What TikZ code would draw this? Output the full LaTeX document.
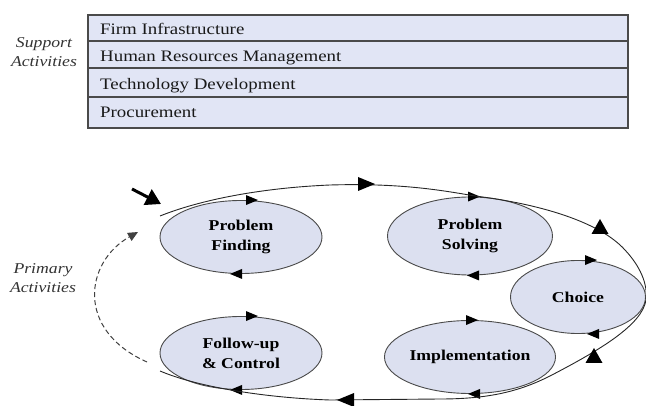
\documentclass[tikz,border=0pt]{standalone}
\usepackage{fontspec}
\setmainfont{Liberation Serif}
\usetikzlibrary{shapes.geometric,arrows.meta,calc}
\definecolor{boxfill}{HTML}{E1E5F5}
\definecolor{ellfill}{HTML}{DCE0F0}
\definecolor{edge}{HTML}{4A4A4A}
\newcommand\wide[1]{\scalebox{1.18}[1]{#1}}
\tikzset{
  rowtext/.style={anchor=base west, inner sep=0, font=\fontsize{16}{18}\selectfont, text=black!90},
  sidetext/.style={align=center, inner sep=0, font=\fontsize{15}{19}\selectfont\itshape, text=black!80},
  stage/.style={ellipse, draw=edge, line width=0.9pt, fill=ellfill, inner sep=0,
     align=center, font=\fontsize{15}{20}\selectfont\bfseries},
  loop/.style={draw=black!85, line width=0.9pt},
  tri/.pic={\fill[black] (0,0) -- (-12,5) -- (-12,-5) -- cycle;},
  bigtri/.pic={\fill[black] (0,0) -- (-17,7) -- (-17,-7) -- cycle;},
  uptri/.pic={\fill[black] (0,-8) -- (8.5,7) -- (-8.5,7) -- cycle;},
}
\begin{document}
\begin{tikzpicture}[x=1pt,y=-1pt]
\useasboundingbox (0,0) rectangle (646,406);
% support activities box
\path[fill=boxfill, draw=edge, line width=1.2pt] (88,15) rectangle (628,128);
\foreach \yy in {41,68,97} \draw[edge, line width=1.2pt] (88,\yy) -- (628,\yy);
\node[rowtext] (r1) at (100,35) {\wide{Firm Infrastructure}};
\node[rowtext] (r2) at (100,62) {\wide{Human Resources Management}};
\node[rowtext] (r3) at (100,90) {\wide{Technology Development}};
\node[rowtext] (r4) at (100,118) {\wide{Procurement}};
\node[sidetext] (sup) at (44,52) {\wide{Support}\\\wide{Activities}};
\node[sidetext] (pri) at (43,278) {\wide{Primary}\\\wide{Activities}};
% stages
\node[stage, minimum width=162pt, minimum height=73pt] (pf) at (241,237) {\wide{Problem}\\\wide{Finding}};
\node[stage, minimum width=162pt, minimum height=73pt] (fc) at (241,353) {\wide{Follow-up}\\\wide{\& Control}};
\node[stage, minimum width=165pt, minimum height=78pt] (ps) at (470,236) {\wide{Problem}\\\wide{Solving}};
\node[stage, minimum width=135pt, minimum height=73pt] (ch) at (578,297) {\wide{Choice}};
\node[stage, minimum width=165pt, minimum height=73pt] (im) at (470,357) {\wide{Implementation}};
% small direction marks on each stage
\pic at ($(pf.north)+(17,0)$) {tri};
\pic[rotate=180] at ($(pf.south)+(-11,0)$) {tri};
\pic at ($(fc.north)+(17,0)$) {tri};
\pic[rotate=180] at ($(fc.south)+(-11,0)$) {tri};
\pic at ($(ps.north)+(10,0)$) {tri};
\pic[rotate=180] at ($(ps.south)+(-3,0)$) {tri};
\pic at ($(ch.north)+(19,0)$) {tri};
\pic[rotate=180] at ($(ch.south)+(9,0)$) {tri};
\pic at ($(im.north)+(8,0)$) {tri};
\pic[rotate=180] at ($(im.south)+(-2,0)$) {tri};
% outer loop
\coordinate (ls) at (160,216);
\coordinate (le) at (160,371);
\draw[loop] (ls) .. controls (200,200) and (260,188) .. (330,185)
  .. controls (400,183) and (440,190) .. (475,196)
  .. controls (540,204) and (600,222) .. (625,250)
  .. controls (640,266) and (648,284) .. (646,300)
  .. controls (642,325) and (600,350) .. (550,376)
  .. controls (520,391) and (490,399) .. (440,399)
  -- (330,400)
  .. controls (270,398) and (200,388) .. (le);
\pic at (375,184) {bigtri};
\pic[rotate=180] at (337,400) {bigtri};
\pic at (600,227) {uptri};
\pic at (594,356) {uptri};
% entry arrow
\coordinate (ea) at (132,189);
\coordinate (eb) at (161,204);
\draw[line width=3pt, -{Triangle[length=15pt,width=17pt]}] (ea) -- (eb);
% dashed feedback
\coordinate (ds) at (147,362);
\coordinate (de) at (138,232);
\draw[dash pattern=on 5pt off 3pt, line width=1pt, black!75, -{Triangle[length=10pt,width=9pt]}] (ds) .. controls (75,330) and (85,262) .. (de);
\end{tikzpicture}
\end{document}
